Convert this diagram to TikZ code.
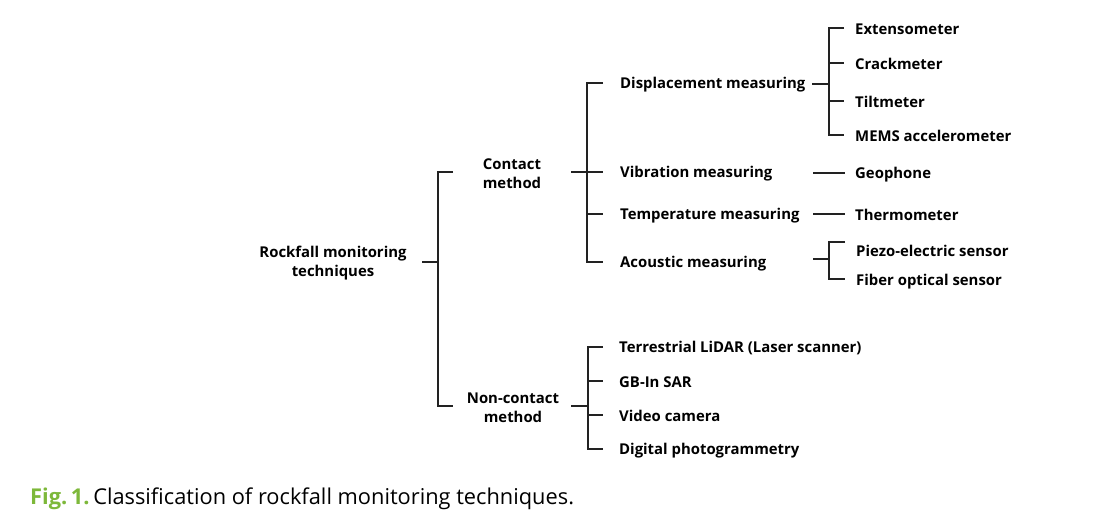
\documentclass[tikz,border=0pt]{standalone}
\usepackage{fontspec}
\setmainfont{Open Sans}
\definecolor{figgreen}{HTML}{7DB83A}
\definecolor{linegray}{HTML}{222222}
\begin{document}
\begin{tikzpicture}[x=1pt,y=-1pt,
  lbl/.style={font=\bfseries\fontsize{14.9}{19}\selectfont, inner sep=0pt, anchor=west, text=black, yshift=-1.2pt},
  clbl/.style={font=\bfseries\fontsize{14.9}{19}\selectfont, inner sep=0pt, align=center, text=black, yshift=-1pt},
  ln/.style={draw=linegray, line width=1.05pt}]
\useasboundingbox (0,0) rectangle (1101,532);
% root
\node[clbl] (root) at (333,262) {Rockfall monitoring\\techniques};
\node[clbl] (contact) at (512,172.5) {Contact\\method};
\node[clbl] (noncontact) at (513,406.5) {Non-contact\\method};
% level 2
\node[lbl] (disp) at (620,83) {Displacement measuring};
\node[lbl] (vib) at (620,172) {Vibration measuring};
\node[lbl] (temp) at (620,214) {Temperature measuring};
\node[lbl] (acou) at (620,262) {Acoustic measuring};
\node[lbl] (lidar) at (619,347) {Terrestrial LiDAR (Laser scanner)};
\node[lbl] (gbsar) at (619,381) {GB-In SAR};
\node[lbl] (video) at (619,415) {Video camera};
\node[lbl] (photo) at (619,449) {Digital photogrammetry};
% level 3
\node[lbl] (ext) at (855,28) {Extensometer};
\node[lbl] (crack) at (855,63) {Crackmeter};
\node[lbl] (tilt) at (855,101) {Tiltmeter};
\node[lbl] (mems) at (855,135) {MEMS accelerometer};
\node[lbl] (geo) at (855,173) {Geophone};
\node[lbl] (thermo) at (855,214) {Thermometer};
\node[lbl] (piezo) at (856,250) {Piezo-electric sensor};
\node[lbl] (fiber) at (856,280) {Fiber optical sensor};
% caption
\node[inner sep=0pt, anchor=west, font=\fontsize{21.8}{24}\selectfont] (cap) at (30,499)
  {\textcolor{figgreen}{\bfseries Fig.\,1.}\,Classification of rockfall monitoring techniques.};
% coordinates
\coordinate (r1) at (422,262);
\coordinate (rv) at (438,262);
\coordinate (c1) at (571,172);
\coordinate (cv) at (587,172);
\coordinate (n1) at (571,406);
\coordinate (nv) at (588,406);
\coordinate (d1) at (812,84);
\coordinate (dv) at (829,84);
\coordinate (a1) at (813,259);
\coordinate (av) at (829,259);
% root bracket
\draw[ln] (r1) -- (rv);
\draw[ln] (453,172) -- (438,172) -- (438,406) -- (453,406);
% contact bracket
\draw[ln] (c1) -- (cv);
\draw[ln] (603,83) -- (587,83) -- (587,262) -- (603,262);
\draw[ln] (587,172) -- (603,172);
\draw[ln] (587,214) -- (603,214);
% noncontact bracket
\draw[ln] (n1) -- (nv);
\draw[ln] (603,347) -- (588,347) -- (588,449) -- (603,449);
\draw[ln] (588,381) -- (603,381);
\draw[ln] (588,415) -- (603,415);
% displacement bracket
\draw[ln] (d1) -- (dv);
\draw[ln] (844,28) -- (829,28) -- (829,135) -- (844,135);
\draw[ln] (829,63) -- (844,63);
\draw[ln] (829,101) -- (844,101);
% single links
\draw[ln] (813,173) -- (845,173);
\draw[ln] (813,214) -- (845,214);
% acoustic bracket
\draw[ln] (a1) -- (av);
\draw[ln] (845,242) -- (829,242) -- (829,279) -- (845,279);
\end{tikzpicture}
\end{document}
